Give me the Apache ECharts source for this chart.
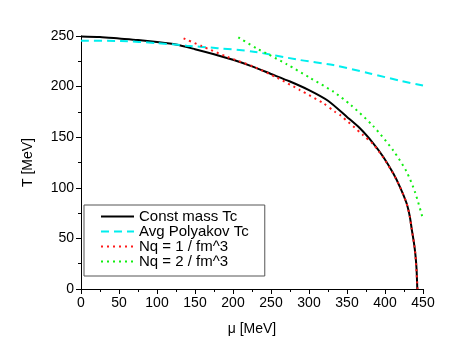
<!DOCTYPE html>
<html>
<head>
<meta charset="utf-8">
<script src="https://cdn.jsdelivr.net/npm/echarts@6/dist/echarts.min.js"></script>
<style>
  html, body { margin: 0; padding: 0; background: #fff; }
  #chart { width: 463px; height: 362px; }
</style>
</head>
<body>
<div id="chart"></div>
<script>
// 读图得到的数据 (mu [MeV], T [MeV])
const seriesNames = ['Const mass Tc', 'Avg Polyakov Tc', 'Nq = 1 / fm^3', 'Nq = 2 / fm^3']

const constMu = [0, 25, 50, 75, 100, 125, 150, 175, 200, 225, 250, 275, 300, 325, 350, 367, 384.5, 397.6, 410.8, 419.6, 428.4, 432.7, 435, 438, 440, 441.5, 442.5]
const constT = [249.5, 249, 247.5, 246, 244, 241.5, 237, 232, 226.5, 220, 212.5, 205, 196.5, 186, 170, 158.8, 144, 130.7, 114.3, 101, 84.7, 71.4, 60, 46, 34, 20, 0]

const polyMu = [0, 52, 100, 139, 180, 227, 288, 332, 380, 420, 450]
const polyT = [245.4, 245, 243, 240.4, 238, 234.5, 226.3, 221.3, 213, 205.8, 201]

const nq1Mu = [135, 159, 192, 227, 258, 288, 319, 334, 341, 371, 384.5, 397.6, 410.8, 419.6, 428.4, 432.7, 435, 438, 440, 442.8]
const nq1T = [247.7, 240, 229.5, 219.7, 208.8, 196.6, 183.5, 175.2, 171.9, 152.2, 143, 130, 114, 101, 84.7, 71.4, 60, 46, 34, 0]

const nq2Mu = [207, 231, 246.5, 271, 301, 332, 355, 384.5, 411, 428.4, 439.3, 450]
const nq2T = [248.7, 237.8, 231.9, 222, 208.8, 195, 181.8, 161, 136.7, 115.9, 96.2, 69]

const xTicks = { min: 0, max: 450, interval: 50 }
const yTicks = { min: 0, max: 250, interval: 50 }

function pairs(xs, ys) {
	let out = []
	for (let i = 0; i < xs.length; i++) {
		out.push([xs[i], ys[i]])
	}
	return out
}

const font = 'Liberation Sans, Arial, Helvetica, sans-serif'

function axisCommon(t) {
	return {
		type: 'value',
		min: t.min,
		max: t.max,
		interval: t.interval,
		axisLine: { show: true, lineStyle: { color: '#000', width: 1 } },
		axisTick: { show: true, length: 5, lineStyle: { color: '#000' } },
		minorTick: { show: true, splitNumber: 2, length: 3, lineStyle: { color: '#000' } },
		splitLine: { show: false },
		axisLabel: { color: '#000', fontSize: 14, fontFamily: font, margin: 7 },
		nameTextStyle: { color: '#000', fontSize: 14, fontFamily: font },
	}
}

function lineSeries(name, data, color, type, width, z) {
	return {
		name: name,
		type: 'line',
		data: data,
		symbol: 'none',
		smooth: 0.25,
		lineStyle: { color: color, width: width, type: type },
		itemStyle: { color: color },
		z: z,
	}
}

const option = {
	animation: false,
	backgroundColor: '#fff',
	grid: { left: 81, right: 40, top: 36, bottom: 73 },
	xAxis: Object.assign(axisCommon(xTicks), {
		name: 'μ [MeV]',
		nameLocation: 'middle',
		nameGap: 33,
	}),
	yAxis: Object.assign(axisCommon(yTicks), {
		name: 'T [MeV]',
		nameLocation: 'middle',
		nameGap: 46,
	}),
	legend: {
		orient: 'vertical',
		left: 84,
		top: 205,
		padding: [4, 16, 7, 16],
		itemGap: 0,
		itemWidth: 33,
		itemHeight: 18,
		itemStyle: { opacity: 0 },
		backgroundColor: '#fff',
		borderColor: '#555',
		borderWidth: 1,
		borderRadius: 0,
		textStyle: { color: '#000', fontSize: 15, fontFamily: font },
		data: seriesNames,
	},
	series: [
		lineSeries(seriesNames[0], pairs(constMu, constT), '#000000', 'solid', 2, 2),
		lineSeries(seriesNames[1], pairs(polyMu, polyT), '#00eeee', [8, 5], 2, 2),
		lineSeries(seriesNames[2], pairs(nq1Mu, nq1T), '#ff1a1a', [2, 4], 2, 3),
		lineSeries(seriesNames[3], pairs(nq2Mu, nq2T), '#11ee11', [2, 4], 2, 3),
	],
}

var chart = echarts.init(document.getElementById('chart'))
chart.setOption(option)
</script>
</body>
</html>
